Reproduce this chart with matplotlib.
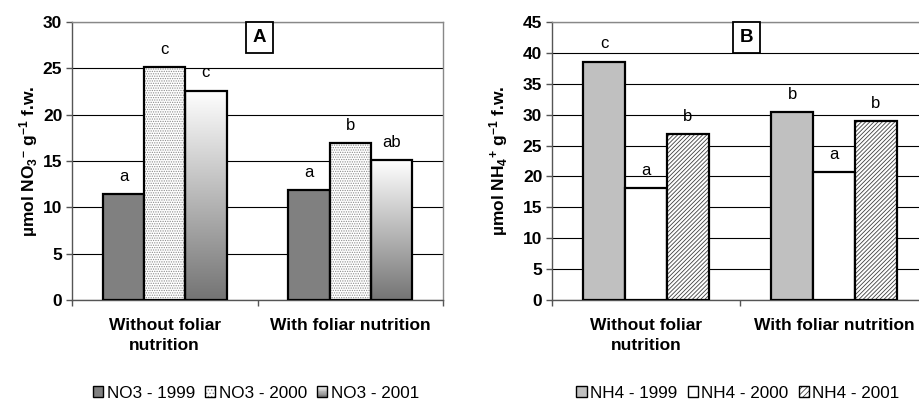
import numpy as np
import matplotlib
matplotlib.use('Agg')
import matplotlib.pyplot as plt
from matplotlib.patches import Rectangle, Patch
from matplotlib.colors import LinearSegmentedColormap
from matplotlib.legend_handler import HandlerBase
from matplotlib.ticker import FixedLocator

plt.rcParams['font.family'] = ['Liberation Sans', 'DejaVu Sans']
plt.rcParams['mathtext.fontset'] = 'custom'
plt.rcParams['mathtext.rm'] = 'Liberation Sans:bold'
plt.rcParams['mathtext.it'] = 'Liberation Sans:bold'
plt.rcParams['mathtext.bf'] = 'Liberation Sans:bold'
plt.rcParams['mathtext.sf'] = 'Liberation Sans:bold'
plt.rcParams['hatch.linewidth'] = 0.6

# ---- data ----
categories = ['Without foliar\nnutrition', 'With foliar nutrition']

no3_series = ['NO3 - 1999', 'NO3 - 2000', 'NO3 - 2001']
no3_values = [[11.4, 11.9], [25.1, 16.9], [22.6, 15.1]]
no3_letters = [['a', 'a'], ['c', 'b'], ['c', 'ab']]
no3_yticks = [0, 5, 10, 15, 20, 25, 30]

nh4_series = ['NH4 - 1999', 'NH4 - 2000', 'NH4 - 2001']
nh4_values = [[38.6, 30.4], [18.1, 20.7], [26.9, 28.9]]
nh4_letters = [['c', 'b'], ['a', 'a'], ['b', 'b']]
nh4_yticks = [0, 5, 10, 15, 20, 25, 30, 35, 40, 45]

FS = 12.5
BAR_W = 0.222
EDGE_LW = 1.6
DOT_HATCH = '.......'
DOT_COLOR = '#8c8c8c'
DIAG_HATCH = '////////'
DIAG_COLOR = '#404040'
grad_cmap = LinearSegmentedColormap.from_list('fade', ['#747474', '#ffffff'])


class GradientHandler(HandlerBase):
    """Legend square filled with a vertical white-to-grey fade."""
    def create_artists(self, legend, orig_handle, xdescent, ydescent,
                       width, height, fontsize, trans):
        n = 14
        arts = []
        for i in range(n):
            arts.append(Rectangle((-xdescent, -ydescent + i * height / n),
                                  width, height / n + 0.1,
                                  facecolor=grad_cmap((i + 0.5) / n),
                                  edgecolor='none', transform=trans))
        arts.append(Rectangle((-xdescent, -ydescent), width, height,
                              facecolor='none', edgecolor='black',
                              lw=1.0, transform=trans))
        return arts


class HatchHandler(HandlerBase):
    """Legend square with a coloured hatch and a black outline."""
    def __init__(self, hatch, color):
        super().__init__()
        self.hatch = hatch
        self.color = color

    def create_artists(self, legend, orig_handle, xdescent, ydescent,
                       width, height, fontsize, trans):
        fill = Rectangle((-xdescent, -ydescent), width, height,
                         facecolor='white', edgecolor=self.color,
                         hatch=self.hatch, lw=0, transform=trans)
        edge = Rectangle((-xdescent, -ydescent), width, height,
                         facecolor='none', edgecolor='black',
                         lw=1.0, transform=trans)
        return [fill, edge]


def style_axes(ax, yticks, ylabel, label_x, panel, box_x):
    x = np.arange(len(categories))
    ax.set_xlim(-0.5, len(categories) - 0.5)
    ax.set_ylim(yticks[0], yticks[-1])
    ax.set_yticks(yticks)
    ax.set_yticklabels([str(t) for t in yticks], fontsize=FS, fontweight='bold')
    ax.set_xticks(x)
    ax.set_xticklabels(categories, fontsize=FS, fontweight='bold',
                       linespacing=1.45)
    ax.xaxis.set_minor_locator(FixedLocator(np.arange(len(categories) + 1) - 0.5))
    ax.tick_params(axis='x', which='major', length=0, pad=13)
    ax.tick_params(axis='x', which='minor', length=4, width=1, color='#555555')
    ax.tick_params(axis='y', length=4, width=1, color='#555555', pad=3)
    ax.set_axisbelow(True)
    ax.yaxis.grid(True, color='black', lw=0.8)
    for s in ('left', 'bottom'):
        ax.spines[s].set_color('#555555')
        ax.spines[s].set_linewidth(1.0)
    for s in ('right', 'top'):
        ax.spines[s].set_color('#888888')
        ax.spines[s].set_linewidth(1.0)
    ax.set_ylabel(ylabel, fontsize=FS, fontweight='bold')
    ax.yaxis.set_label_coords(label_x, 0.5)
    ax.add_patch(Rectangle((box_x[0], 0.888), box_x[1] - box_x[0], 0.112,
                           transform=ax.transAxes, facecolor='white',
                           edgecolor='black', lw=1.3, zorder=6, clip_on=False))
    ax.text((box_x[0] + box_x[1]) / 2, 0.944, panel, transform=ax.transAxes,
            ha='center', va='center', fontsize=13.5, fontweight='bold', zorder=7)


def letters(ax, xs, vals, labs):
    for xi, v, t in zip(xs, vals, labs):
        ax.annotate(t, (xi, v), xytext=(0, 9.5), textcoords='offset points',
                    ha='center', va='baseline', fontsize=12, zorder=8)


fig = plt.figure(figsize=(9.19, 4.01), dpi=100)
axA = fig.add_axes([72 / 919, 101 / 401, 371 / 919, 278 / 401])
axB = fig.add_axes([552 / 919, 101 / 401, 376 / 919, 278 / 401])

x = np.arange(len(categories))
offsets = [-BAR_W, 0.0, BAR_W]

# ---- panel A: nitrate ----
xa0 = x + offsets[0]
axA.bar(xa0, no3_values[0], BAR_W, color='#808080', edgecolor='black',
        lw=EDGE_LW, zorder=3)
xa1 = x + offsets[1]
axA.bar(xa1, no3_values[1], BAR_W, color='white', edgecolor=DOT_COLOR,
        hatch=DOT_HATCH, lw=0, zorder=3)
axA.bar(xa1, no3_values[1], BAR_W, fill=False, edgecolor='black',
        lw=EDGE_LW, zorder=4)
xa2 = x + offsets[2]
grad = np.linspace(0, 1, 256).reshape(-1, 1)
bars = axA.bar(xa2, no3_values[2], BAR_W, fill=False, edgecolor='black',
               lw=EDGE_LW, zorder=4)
for xi, v, b in zip(xa2, no3_values[2], bars):
    im = axA.imshow(grad, cmap=grad_cmap, origin='lower', aspect='auto',
                    extent=[xi - BAR_W / 2, xi + BAR_W / 2, 0, v], zorder=3)
    im.set_clip_path(b)
for xs, vals, labs in zip([xa0, xa1, xa2], no3_values, no3_letters):
    letters(axA, xs, vals, labs)

style_axes(axA, no3_yticks, r'µmol NO$_3$$^{-}$ g$^{-1}$ f.w.', -0.086, 'A',
           (0.469, 0.542))

handlesA = [Patch(facecolor='#808080', edgecolor='black', lw=1.0),
            Patch(facecolor='white'), Patch(facecolor='#cccccc')]
fig.legend(handlesA, no3_series, loc='center',
           bbox_to_anchor=(256 / 919, 8 / 401), ncol=3, frameon=False,
           fontsize=12.3, handlelength=0.6, handleheight=0.6,
           handletextpad=0.2, columnspacing=0.6,
           handler_map={handlesA[1]: HatchHandler('.....', DOT_COLOR),
                        handlesA[2]: GradientHandler()})

# ---- panel B: ammonium ----
xb0 = x + offsets[0]
axB.bar(xb0, nh4_values[0], BAR_W, color='#c0c0c0', edgecolor='black',
        lw=EDGE_LW, zorder=3)
xb1 = x + offsets[1]
axB.bar(xb1, nh4_values[1], BAR_W, color='white', edgecolor='black',
        lw=EDGE_LW, zorder=3)
xb2 = x + offsets[2]
axB.bar(xb2, nh4_values[2], BAR_W, color='white', edgecolor=DIAG_COLOR,
        hatch=DIAG_HATCH, lw=0, zorder=3)
axB.bar(xb2, nh4_values[2], BAR_W, fill=False, edgecolor='black',
        lw=EDGE_LW, zorder=4)
for xs, vals, labs in zip([xb0, xb1, xb2], nh4_values, nh4_letters):
    letters(axB, xs, vals, labs)

style_axes(axB, nh4_yticks, r'µmol NH$_4$$^{+}$ g$^{-1}$ f.w.', -0.112, 'B',
           (0.4806, 0.553))

handlesB = [Patch(facecolor='#c0c0c0', edgecolor='black', lw=1.0),
            Patch(facecolor='white', edgecolor='black', lw=1.0),
            Patch(facecolor='#eeeeee')]
fig.legend(handlesB, nh4_series, loc='center',
           bbox_to_anchor=(738 / 919, 8 / 401), ncol=3, frameon=False,
           fontsize=12.3, handlelength=0.6, handleheight=0.6,
           handletextpad=0.2, columnspacing=0.6,
           handler_map={handlesB[2]: HatchHandler('//////', DIAG_COLOR)})

fig.savefig('out.png', dpi=100)
